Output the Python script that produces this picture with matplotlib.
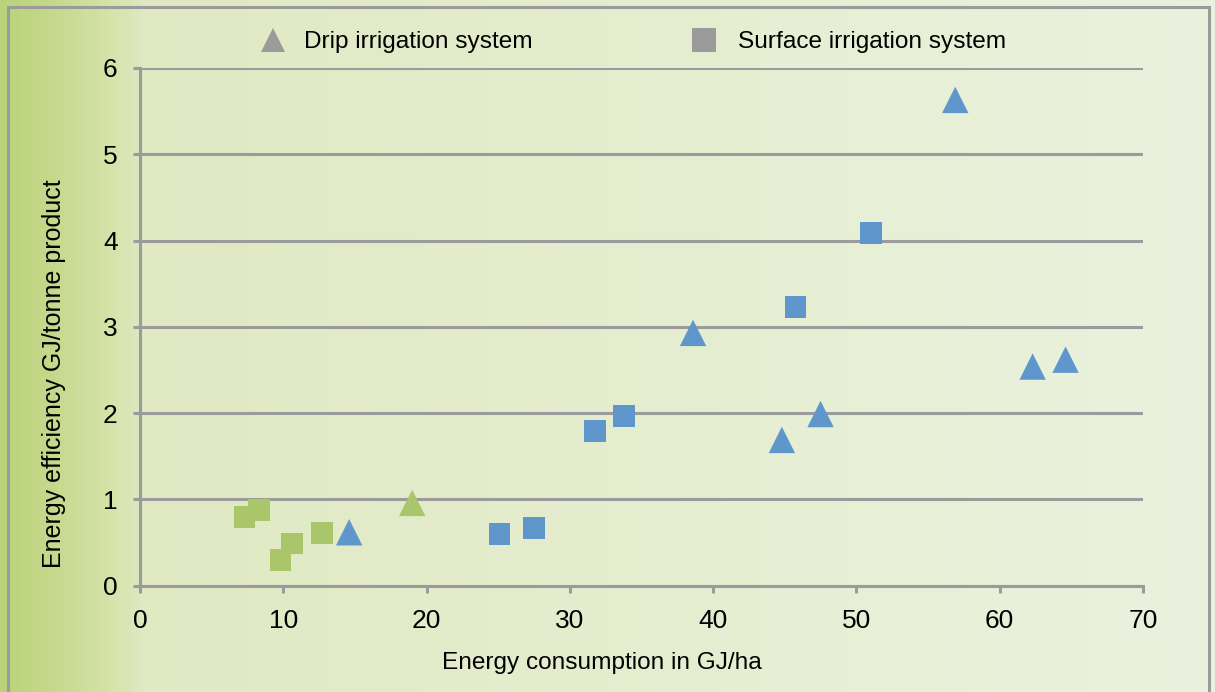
import matplotlib.pyplot as plt
import numpy as np
from matplotlib.lines import Line2D
from matplotlib.patches import Rectangle
from matplotlib.colors import LinearSegmentedColormap

# drip irrigation points (triangles)
drip_x = [14.6, 19.0, 38.6, 44.8, 47.5, 56.9, 62.3, 64.6]
drip_y = [0.62, 0.96, 2.93, 1.69, 1.99, 5.63, 2.54, 2.62]
drip_group = ['blue', 'green', 'blue', 'blue', 'blue', 'blue', 'blue', 'blue']

# surface irrigation points (squares)
surface_x = [7.3, 8.3, 9.8, 10.6, 12.7, 25.1, 27.5, 31.75, 33.8, 45.75, 51.0]
surface_y = [0.80, 0.88, 0.30, 0.49, 0.61, 0.60, 0.67, 1.79, 1.97, 3.23, 4.09]
surface_group = ['green'] * 5 + ['blue'] * 6

x_ticks = [0, 10, 20, 30, 40, 50, 60, 70]
y_ticks = [0, 1, 2, 3, 4, 5, 6]
legend_labels = ['Drip irrigation system', 'Surface irrigation system']

colors = {'blue': '#5f96cb', 'green': '#a9c66a'}
grey = '#9b9b9b'

plt.rcParams['font.family'] = ['Liberation Sans', 'DejaVu Sans']

fig = plt.figure(figsize=(12.15, 6.92), dpi=100)

# background gradient over the whole figure
bg = fig.add_axes([0, 0, 1, 1], zorder=-10)
bg_cmap = LinearSegmentedColormap.from_list('bg', [
    (0.0, '#bad37a'), (0.04, '#c5d98c'), (0.09, '#d6e3aa'),
    (0.115, '#e0e9c2'), (0.5, '#e5edcf'), (1.0, '#eaf2df')])
bg.imshow(np.linspace(0, 1, 400)[None, :], aspect='auto', cmap=bg_cmap,
          extent=[0, 1, 0, 1])
bg.add_patch(Rectangle((0.0065, -0.05), 0.9885, 1.04, fill=False,
                       edgecolor=grey, lw=2.2, transform=bg.transAxes))
bg.set_xlim(0, 1)
bg.set_ylim(0, 1)
bg.axis('off')

ax = fig.add_axes([0.1152, 0.1535, 0.8255, 0.7483])
ax.set_facecolor('none')

ax.scatter(drip_x, drip_y, marker='^', s=19 ** 2,
           c=[colors[k] for k in drip_group], linewidths=0, zorder=3,
           clip_on=False)
ax.scatter(surface_x, surface_y, marker='s', s=15.6 ** 2,
           c=[colors[k] for k in surface_group], linewidths=0, zorder=3,
           clip_on=False)

ax.set_xlim(0, 70)
ax.set_ylim(0, 6)
ax.set_xticks(x_ticks)
ax.set_yticks(y_ticks)
ax.yaxis.grid(True, color=grey, lw=2.2)
ax.set_axisbelow(True)

for s in ['top', 'right']:
    ax.spines[s].set_visible(False)
for s in ['left', 'bottom']:
    ax.spines[s].set_color(grey)
    ax.spines[s].set_linewidth(2.2)

ax.tick_params(axis='both', colors=grey, width=2.2, length=5,
               labelcolor='black', labelsize=19)
ax.tick_params(axis='x', pad=12)
ax.tick_params(axis='y', pad=11)

ax.set_xlabel('Energy consumption in GJ/ha', fontsize=17.6)
ax.xaxis.set_label_coords(0.4606, -0.149)
ax.xaxis.label.set_va('center')
ax.set_ylabel('Energy efficiency GJ/tonne product', fontsize=18)
ax.yaxis.set_label_coords(-0.0855, 0.409)
ax.yaxis.label.set_va('center')

# two separate legend entries, placed like the original
tri = Line2D([], [], ls='none', marker='^', ms=17.5, color=grey, mew=0)
sq = Line2D([], [], ls='none', marker='s', ms=17, color=grey, mew=0)
fig.legend([tri], legend_labels[:1], loc='center left',
           bbox_to_anchor=(261 / 1215, 0.939), frameon=False, fontsize=17.6,
           handlelength=1.0, handletextpad=0.75, borderpad=0, borderaxespad=0)
fig.legend([sq], legend_labels[1:], loc='center left',
           bbox_to_anchor=(692 / 1215, 0.939), frameon=False, fontsize=17.6,
           handlelength=1.0, handletextpad=0.89, borderpad=0, borderaxespad=0)

fig.savefig('out.png', dpi=100)
